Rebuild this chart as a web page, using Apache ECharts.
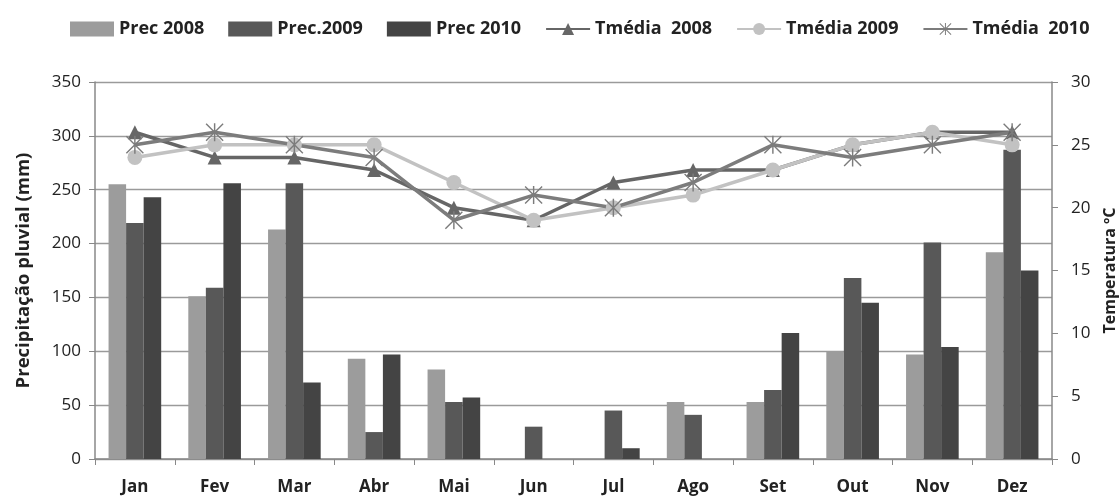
<!DOCTYPE html>
<html>
<head>
<meta charset="utf-8">
<script src="https://cdn.jsdelivr.net/npm/echarts@6/dist/echarts.min.js"></script>
<style>
html,body{margin:0;padding:0;background:#fff;}
#chart{width:1120px;height:497px;}
</style>
</head>
<body>
<div id="chart"></div>
<script>
const months = ['Jan','Fev','Mar','Abr','Mai','Jun','Jul','Ago','Set','Out','Nov','Dez'];
const prec2008 = [255, 151, 213, 93, 83, 0, 0, 53, 53, 100, 97, 192];
const prec2009 = [219, 159, 256, 25, 53, 30, 45, 41, 64, 168, 201, 287];
const prec2010 = [243, 256, 71, 97, 57, 0, 10, 0, 117, 145, 104, 175];
const tmed2008 = [26, 24, 24, 23, 20, 19, 22, 23, 23, 25, 26, 26];
const tmed2009 = [24, 25, 25, 25, 22, 19, 20, 21, 23, 25, 26, 25];
const tmed2010 = [25, 26, 25, 24, 19, 21, 20, 22, 25, 24, 25, 26];
const precTicks = [0, 50, 100, 150, 200, 250, 300, 350];
const tempTicks = [0, 5, 10, 15, 20, 25, 30];

const FONT = '"Open Sans", "Noto Sans", sans-serif';
const star = 'path://M9.2 0 L10.8 0 L10.8 20 L9.2 20 Z M0 1.1 L1.1 0 L20 18.9 L18.9 20 Z M18.9 0 L20 1.1 L1.1 20 L0 18.9 Z';

const chart = echarts.init(document.getElementById('chart'));
const barSeries = (name, data, color) => ({
  name, type: 'bar', data, yAxisIndex: 0,
  barGap: '0%', barCategoryGap: '34%',
  itemStyle: { color }, z: 2
});
const lineSeries = (name, data, color, symbol, size) => ({
  name, type: 'line', data, yAxisIndex: 1,
  symbol, symbolSize: size,
  lineStyle: { color, width: 3.5 },
  itemStyle: { color },
  z: 5
});
chart.setOption({
  animation: false,
  textStyle: { fontFamily: FONT },
  legend: {
    top: 15, left: 65,
    itemGap: 24, itemWidth: 44, itemHeight: 15,
    textStyle: { fontFamily: FONT, fontWeight: 'bold', fontSize: 18, color: '#222' },
    data: [
      { name: 'Prec 2008', icon: 'rect' },
      { name: 'Prec.2009', icon: 'rect' },
      { name: 'Prec 2010', icon: 'rect' },
      'Tmédia  2008', 'Tmédia 2009', 'Tmédia  2010'
    ]
  },
  grid: { left: 95, right: 68, top: 82, bottom: 38, containLabel: false, outerBoundsMode: 'none' },
  xAxis: {
    type: 'category', data: months,
    axisLine: { lineStyle: { color: '#888', width: 1.5 } },
    axisTick: { show: true, length: 6, lineStyle: { color: '#888' } },
    axisLabel: { fontFamily: FONT, fontWeight: 'bold', fontSize: 17, color: '#222', margin: 20 }
  },
  yAxis: [
    {
      type: 'value', min: 0, max: 350, interval: 50,
      name: 'Precipitação pluvial (mm)', nameLocation: 'middle', nameRotate: 90, nameGap: 62,
      nameTextStyle: { fontFamily: FONT, fontWeight: 'bold', fontSize: 18.5, color: '#222' },
      axisLine: { show: true, lineStyle: { color: '#888', width: 1.5 } },
      axisTick: { show: true, length: 6, lineStyle: { color: '#888' } },
      axisLabel: { fontFamily: FONT, fontSize: 17, color: '#222', margin: 14,
        formatter: v => precTicks.includes(v) ? String(v) : '' },
      splitLine: { show: true, lineStyle: { color: '#9a9a9a', width: 1.3 } }
    },
    {
      type: 'value', min: 0, max: 30, interval: 5, position: 'right',
      name: 'Temperatura ºC', nameLocation: 'middle', nameRotate: 90, nameGap: 50,
      nameTextStyle: { fontFamily: FONT, fontWeight: 'bold', fontSize: 16, color: '#222' },
      axisLine: { show: true, lineStyle: { color: '#888', width: 1.5 } },
      axisTick: { show: true, length: 6, lineStyle: { color: '#888' } },
      axisLabel: { fontFamily: FONT, fontSize: 17, color: '#222', margin: 19,
        formatter: v => tempTicks.includes(v) ? String(v) : '' },
      splitLine: { show: false }
    }
  ],
  series: [
    barSeries('Prec 2008', prec2008, '#9c9c9c'),
    barSeries('Prec.2009', prec2009, '#585858'),
    barSeries('Prec 2010', prec2010, '#444444'),
    lineSeries('Tmédia  2008', tmed2008, '#666666', 'triangle', 14),
    lineSeries('Tmédia 2009', tmed2009, '#c2c2c2', 'circle', 15),
    lineSeries('Tmédia  2010', tmed2010, '#7c7c7c', star, 18)
  ]
});
</script>
</body>
</html>
